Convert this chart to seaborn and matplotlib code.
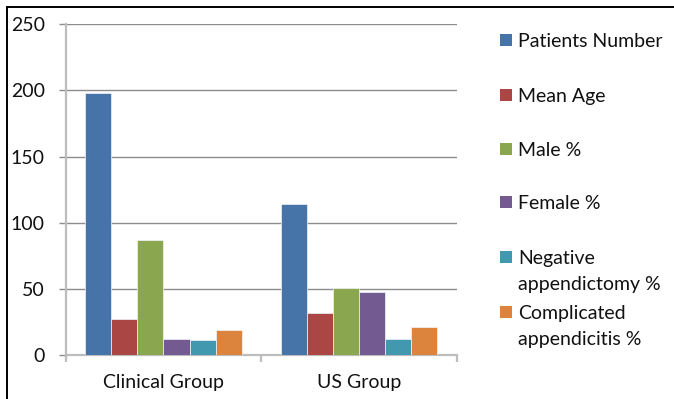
import matplotlib
matplotlib.use("Agg")
import matplotlib.pyplot as plt
from matplotlib.lines import Line2D
from matplotlib.patches import Rectangle
import numpy as np
import pandas as pd
import seaborn as sns

groups = ["Clinical Group", "US Group"]
metrics = ["Patients Number", "Mean Age", "Male %", "Female %",
           "Negative appendictomy %", "Complicated appendicitis %"]
legend_labels = ["Patients Number", "Mean Age", "Male %", "Female %",
                 "Negative\nappendictomy %", "Complicated\nappendicitis %"]
clinical_values = [198, 27, 87, 12, 11, 19]
us_values = [114, 31.5, 51, 48, 12, 21]
colors = ["#4673A8", "#AA4744", "#8AA64E", "#735A90", "#4298AF", "#DC843E"]
yticks = [0, 50, 100, 150, 200, 250]

df = pd.DataFrame({
    "group": [g for g in groups for _ in metrics],
    "metric": metrics * len(groups),
    "value": clinical_values + us_values,
})

sns.set_theme(style="white")
plt.rcParams["font.family"] = ["Lato", "DejaVu Sans"]

W, H = 674, 399
FS = 14
fig = plt.figure(figsize=(W / 100, H / 100), dpi=100)
ax = fig.add_axes([65.7 / W, 1 - 355 / H, 391 / W, (355 - 24.3) / H])

sns.barplot(data=df, x="group", y="value", hue="metric", order=groups,
            hue_order=metrics, palette=colors, saturation=1, width=0.8, ax=ax,
            edgecolor="#F2F4F8", linewidth=0.5, legend=False, zorder=3)

ax.set_xlim(-0.5, 1.5)
ax.set_ylim(0, 250)
ax.set_yticks(yticks)
ax.set_yticklabels([str(t) for t in yticks], fontsize=FS, color="#111111")
ax.set_xlabel("")
ax.set_ylabel("")

# horizontal gridlines
ax.yaxis.grid(True, color="#8C8C8C", linewidth=1.0, zorder=0)
ax.set_axisbelow(True)

for side in ["top", "right"]:
    ax.spines[side].set_visible(False)
for side in ["left", "bottom"]:
    ax.spines[side].set_color("#BDBDBD")
    ax.spines[side].set_linewidth(1.6)

ax.tick_params(axis="y", which="major", length=5, width=1.0, color="#8C8C8C",
               direction="out", pad=10, left=True)

# category labels at group centres, tick marks at group boundaries
ax.set_xticks([0, 1])
ax.set_xticklabels(groups, fontsize=FS, color="#111111")
ax.tick_params(axis="x", which="major", length=0, pad=14)
ax.set_xticks([-0.5, 0.5, 1.5], minor=True)
ax.tick_params(axis="x", which="minor", length=5, width=1.6, color="#BDBDBD",
               direction="out", bottom=True)

# legend
first_line_y = [40, 95, 149, 202, 257, 312]
line_pitch = 26
for lab, col, yc in zip(legend_labels, colors, first_line_y):
    fig.add_artist(Rectangle((500 / W, 1 - (yc + 6) / H), 12 / W, 12 / H,
                             transform=fig.transFigure, facecolor=col,
                             edgecolor="none"))
    extra = lab.count("\n") * line_pitch
    fig.text(518 / W, 1 - (yc + 7 + extra) / H, lab, fontsize=FS,
             color="#111111", va="baseline", ha="left", linespacing=1.65)

# outer frame
fig.add_artist(Line2D([7 / W, 1], [1 - 7 / H, 1 - 7 / H], color="black",
                      linewidth=1.4, transform=fig.transFigure))
fig.add_artist(Line2D([7 / W, 7 / W], [0, 1 - 7 / H], color="black",
                      linewidth=1.4, transform=fig.transFigure))

fig.savefig("out.png", dpi=100)
